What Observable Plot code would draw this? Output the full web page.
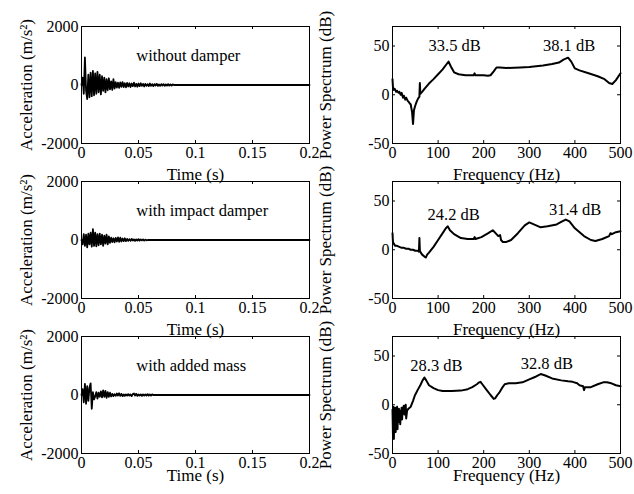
<!DOCTYPE html>
<html><head><meta charset="utf-8">
<script src="https://cdn.jsdelivr.net/npm/d3@7"></script>
<script src="https://cdn.jsdelivr.net/npm/@observablehq/plot@0.6"></script>
<style>
html,body{margin:0;padding:0;background:#fff;}
#fig{position:relative;width:634px;height:494px;overflow:hidden;background:#fff;}
</style></head><body><div id="fig"></div><script>
// ---------- data ----------
const accTicksX = [0, 0.05, 0.1, 0.15, 0.2];
const accTicksY = [-2000, 0, 2000];
const freqTicksX = [0, 100, 200, 300, 400, 500];
const dbTicksY = [-50, 0, 50];
const caseLabels = ["without damper", "with impact damper", "with added mass"];
const peakLabels = [["33.5 dB", "38.1 dB"], ["24.2 dB", "31.4 dB"], ["28.3 dB", "32.8 dB"]];
const accAxisLabel = "Acceleration (m/s\u00B2)";
const timeAxisLabel = "Time (s)";
const specAxisLabel = "Power Spectrum (dB)";
const freqAxisLabel = "Frequency (Hz)";

// time samples (s)
const accTime = [
  0, 0.001, 0.002, 0.003, 0.004, 0.005, 0.006, 0.007, 0.008, 0.009,
  0.010, 0.011, 0.012, 0.013, 0.014, 0.015, 0.016, 0.017, 0.018, 0.019,
  0.020, 0.021, 0.022, 0.023, 0.024, 0.025, 0.026, 0.027, 0.028, 0.029,
  0.030, 0.031, 0.032, 0.033, 0.034, 0.035, 0.036, 0.037, 0.038, 0.039,
  0.040, 0.041, 0.042, 0.043, 0.044, 0.045, 0.046, 0.047, 0.048, 0.049,
  0.050, 0.051, 0.052, 0.053, 0.054, 0.055, 0.056, 0.057, 0.058, 0.059,
  0.060, 0.061, 0.062, 0.063, 0.064, 0.065, 0.066, 0.067, 0.068, 0.069,
  0.070, 0.071, 0.072, 0.073, 0.074, 0.075, 0.076, 0.077, 0.078, 0.079,
  0.080, 0.081, 0.2
];
const accWithout = [
  0, 250, -300, 940, -200, -480, 350, -420, 420, -380,
  480, -350, 400, -300, 450, -250, 350, -320, 300, -200,
  250, -250, 200, -180, 230, -150, 120, -170, 200, -120,
  100, -90, 80, -100, 90, -60, 100, -70, 60, -80,
  70, -50, 60, -70, 50, -40, 80, -50, 40, -60,
  50, -40, 60, -30, 40, -50, 40, -30, 30, -40,
  50, -30, 30, -40, 30, -20, 40, -30, 20, -30,
  30, -20, 30, -30, 20, -20, 30, -20, 20, -20,
  20, 0, 0
];
const accImpact = [
  0, -150, 200, -200, 180, -250, 220, -150, 250, -230,
  370, -200, 250, -220, 200, -180, 220, -150, 180, -200,
  150, -120, 180, -150, 120, -100, 80, -70, 60, -80,
  70, -50, 90, -60, 80, -50, 50, -40, 60, -40,
  40, -30, 30, -30, 40, -20, 20, -30, 20, -20,
  30, -20, 20, -15, 20, -20, 15, -10, 0, 0,
  0, 0, 0, 0, 0, 0, 0, 0, 0, 0,
  0, 0, 0, 0, 0, 0, 0, 0, 0, 0,
  0, 0, 0
];
const accMass = [
  0, 200, -250, 380, -300, 300, -200, 250, 400, -470,
  100, -150, -50, 100, -120, 80, -60, 120, -80, 160,
  -60, 140, -100, 100, -60, 80, -50, 40, -40, 30,
  -30, 50, -20, 60, -30, 40, -40, 20, -30, 20,
  -20, 30, -20, 20, -40, 30, 50, -20, 40, -30,
  20, -20, 20, -30, 20, -20, 20, -20, 30, -20,
  20, -20, 20, 0, 0, 0, 0, 0, 0, 0,
  0, 0, 0, 0, 0, 0, 0, 0, 0, 0,
  0, 0, 0
];

// power spectra: frequency (Hz) and level (dB)
const specWithoutF = [
  0, 1, 3, 5, 8, 10, 13, 15, 18, 20,
  23, 25, 28, 30, 33, 35, 38, 40, 43, 45,
  47, 50, 53, 56, 59, 60, 61, 65, 70, 80,
  90, 100, 110, 118, 123, 128, 135, 145, 160, 178,
  180, 182, 200, 209, 215, 222, 228, 235, 250, 280,
  300, 330, 350, 365, 375, 385, 392, 400, 410, 430,
  450, 465, 475, 482, 490, 500
];
const specWithoutDb = [
  16, 8, 5, 6, 3, 4, 2, 3, 0, 2,
  -3, -1, -5, -3, -6, -7, -9, -10, -18, -30,
  -16, -11, -7, -4, -2, 12, 1, 3, 6, 11.5,
  16, 21, 26, 31, 34, 29, 23, 21, 20, 20,
  22, 20, 20, 19.5, 20, 24, 28, 28, 27.5, 28,
  28.5, 30, 31.5, 33, 36, 38, 34, 27, 25, 22,
  19, 16, 12, 11, 15, 22
];
const specImpactF = [
  0, 1, 3, 6, 10, 15, 20, 25, 30, 35,
  40, 45, 50, 55, 58, 59, 60, 62, 65, 70,
  73, 76, 80, 90, 100, 110, 117, 121, 126, 135,
  150, 165, 178, 180, 182, 195, 210, 220, 226, 232,
  236, 238, 242, 250, 260, 275, 290, 300, 310, 325,
  340, 360, 372, 380, 388, 400, 420, 435, 445, 460,
  475, 478, 481, 490, 500
];
const specImpactDb = [
  17, 8, 6, 4, 4, 3, 2, 2, 1, 1,
  0, 0, -1, -1, -2, 12, -1, -3, -5, -7,
  -8, -5, -3, 3, 10, 17, 22, 24, 20, 16,
  12, 11, 11, 13, 11, 13, 17, 20, 17, 14,
  15, 10, 8, 8, 10, 17, 25, 28, 26, 23,
  24, 26, 29, 31, 29, 22, 14, 10, 9, 11,
  14, 17, 16, 18, 19
];
const specMassF = [
  0, 1, 2, 3, 4, 5, 6, 7, 8, 9,
  10, 11, 12, 13, 14, 15, 16, 17, 18, 19,
  20, 21, 22, 23, 24, 25, 26, 27, 28, 29,
  30, 32, 35, 40, 45, 49, 55, 61, 66, 70,
  74, 80, 90, 100, 110, 130, 150, 165, 175, 185,
  190, 193, 197, 205, 215, 222, 225, 230, 235, 240,
  246, 255, 270, 285, 300, 315, 325, 335, 350, 370,
  385, 395, 405, 410, 418, 420, 422, 435, 450, 462,
  470, 480, 490, 500
];
const specMassDb = [
  -5, -30, -2, -35, -8, -20, -3, -28, -6, -15,
  -2, -25, -5, -18, -4, -12, -8, -20, -6, -10,
  -3, -15, -5, -8, -2, -1, -10, -4, -6, 0,
  -14, -6, -4, -2, 4, 9.5, 15, 20, 25, 28,
  25, 20, 17, 15, 14, 14, 14.5, 16, 18, 21,
  23, 23.5, 21, 16, 10, 6, 6.5, 10, 13, 17,
  21, 22, 22, 23, 26, 29, 31.5, 30, 27, 25,
  24, 23.5, 22, 20, 19, 15, 18, 18, 21, 23,
  23, 22, 20, 19
];

// ---------- layout ----------
const fig = document.getElementById("fig");
const FONT = "'Liberation Serif', 'Times New Roman', serif";
const frameTops = [26, 181, 336];
const frameH = 117;
const MT = 26, MB = 41;
const colLeft = [0, 317];
const colW = 317;
const colML = [81, 75];
const colMR = [8, 14];
const xLabelDy = [36, 36, 27];
const accNote = {x: 0.048, y: 1000};
const peakNotePos = [[[79, 50], [330, 50]], [[77, 36], [343, 41]], [[39, 40], [281, 42.5]]];
const TL = 3; // inward tick length

function innerTicks(xt, yt, H, W) {
  const s = {stroke: "black", strokeWidth: 1};
  return [
    Plot.tickX(xt, {...s, x: d => d, insetTop: H - TL}),
    Plot.tickX(xt, {...s, x: d => d, insetBottom: H - TL}),
    Plot.tickY(yt, {...s, y: d => d, insetRight: W - TL}),
    Plot.tickY(yt, {...s, y: d => d, insetLeft: W - TL})
  ];
}

function place(svg, left, top) {
  svg.style.position = "absolute";
  svg.style.left = left + "px";
  svg.style.top = top + "px";
  svg.style.overflow = "visible";
  svg.style.background = "transparent";
  svg.style.maxWidth = "none";
  fig.appendChild(svg);
}

const accSeries = [accWithout, accImpact, accMass];
const specF = [specWithoutF, specImpactF, specMassF];
const specDb = [specWithoutDb, specImpactDb, specMassDb];

for (let r = 0; r < 3; r++) {
  const top = frameTops[r] - MT;
  const height = MT + frameH + MB;
  // left: acceleration
  {
    const W = colW - colML[0] - colMR[0];
    const svg = Plot.plot({
      width: colW, height,
      marginLeft: colML[0], marginRight: colMR[0], marginTop: MT, marginBottom: MB,
      style: {fontFamily: FONT, fontSize: "16px", color: "black", background: "transparent", overflow: "visible"},
      x: {domain: [0, 0.2]},
      y: {domain: [-2000, 2000]},
      marks: [
        Plot.line(accTime, {x: accTime, y: accSeries[r], stroke: "black", strokeWidth: 1.8}),
        Plot.frame({stroke: "black", strokeWidth: 1}),
        ...innerTicks(accTicksX, accTicksY, frameH, W),
        Plot.axisX(accTicksX, {tickSize: 0, tickPadding: 3, tickFormat: d => String(d), label: null, fontSize: 16}),
        Plot.axisY(accTicksY, {tickSize: 0, tickPadding: 3, tickFormat: d => String(d), label: null, fontSize: 16}),
        Plot.text([caseLabels[r]], {x: () => accNote.x, y: () => accNote.y, text: d => d, textAnchor: "start", fontSize: 16.5}),
        Plot.text([timeAxisLabel], {frameAnchor: "bottom", dy: xLabelDy[r], textAnchor: "middle", lineAnchor: "bottom", text: d => d, fontSize: 17}),
        Plot.text([accAxisLabel], {frameAnchor: "left", rotate: -90, dx: -54.5, textAnchor: "middle", lineAnchor: "middle", text: d => d, fontSize: 17})
      ]
    });
    place(svg, colLeft[0], top);
  }
  // right: power spectrum
  {
    const W = colW - colML[1] - colMR[1];
    const svg = Plot.plot({
      width: colW, height,
      marginLeft: colML[1], marginRight: colMR[1], marginTop: MT, marginBottom: MB,
      style: {fontFamily: FONT, fontSize: "16px", color: "black", background: "transparent", overflow: "visible"},
      x: {domain: [0, 500]},
      y: {domain: [-50, 70]},
      marks: [
        Plot.line(specF[r], {x: specF[r], y: specDb[r], stroke: "black", strokeWidth: 2}),
        Plot.frame({stroke: "black", strokeWidth: 1}),
        ...innerTicks(freqTicksX, dbTicksY, frameH, W),
        Plot.axisX(freqTicksX, {tickSize: 0, tickPadding: 3, tickFormat: d => String(d), label: null, fontSize: 16}),
        Plot.axisY(dbTicksY, {tickSize: 0, tickPadding: 3, tickFormat: d => String(d), label: null, fontSize: 16}),
        Plot.text(peakLabels[r], {
          x: (d, i) => peakNotePos[r][i][0], y: (d, i) => peakNotePos[r][i][1],
          text: d => d, textAnchor: "start", fontSize: 16.5
        }),
        Plot.text([freqAxisLabel], {frameAnchor: "bottom", dy: xLabelDy[r], textAnchor: "middle", lineAnchor: "bottom", text: d => d, fontSize: 17}),
        Plot.text([specAxisLabel], {frameAnchor: "left", rotate: -90, dx: -66.5, textAnchor: "middle", lineAnchor: "middle", text: d => d, fontSize: 17})
      ]
    });
    place(svg, colLeft[1], top);
  }
}
</script></body></html>
